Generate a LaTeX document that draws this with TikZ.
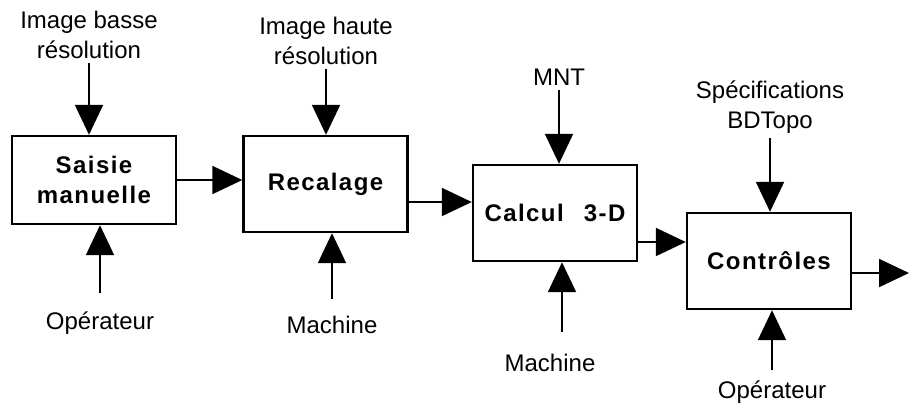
\documentclass[tikz,border=0pt]{standalone}
\usepackage{fontspec}
\setmainfont{Liberation Sans}
\newfontfamily\boxfont{Liberation Sans}[LetterSpace=6]
\usepackage{tikz}
\usetikzlibrary{arrows.meta, calc}
\tikzset{
  box/.style={draw, line width=1.2pt, align=center, minimum width=82pt, minimum height=48pt,
    font=\boxfont\bfseries\fontsize{12}{15}\selectfont},
  lab/.style={align=center, inner sep=2pt, font=\fontsize{12}{15}\selectfont},
  arr/.style={-{Triangle[length=15pt, width=14pt]}, line width=1pt},
}

\begin{document}
\begin{tikzpicture}[x=0.5pt, y=-0.5pt]
    \useasboundingbox (0,0) rectangle (909,403);
    \node[box, minimum height=44pt] (s1) at (94,180) {Saisie\\manuelle};
    \node[box] (s2) at (325.5,184) {Recalage};
    \node[box] (s3) at (555,213) {Calcul \enspace3-D};
    \node[box] (s4) at (769,261) {Contrôles};
    \node[lab] (i1) at (89,35) {Image basse\\résolution};
    \node[lab] (i2) at (326,41) {Image haute\\résolution};
    \node[lab] (i3) at (559,77) {MNT};
    \node[lab] (i4) at (770,107) {Spécifications\\BDTopo};
    \node[lab] (o1) at (100,323) {Opérateur};
    \node[lab] (o2) at (332,325) {Machine};
    \node[lab] (o3) at (550,363) {Machine};
    \node[lab] (o4) at (772,392) {Opérateur};
    \coordinate (fin) at (909,273);
    \draw[arr] (i1) -- (i1 |- s1.north);
    \draw[arr] (i2) -- (i2 |- s2.north);
    \draw[arr] (i3) -- (i3 |- s3.north);
    \draw[arr] (i4) -- (i4 |- s4.north);
    \draw[arr, shorten <=7pt] (o1) -- (o1 |- s1.south);
    \draw[arr, shorten <=6.5pt] (o2) -- (o2 |- s2.south);
    \draw[arr, shorten <=9pt] ([xshift=6pt]o3.north) -- ([xshift=6pt]o3.north |- s3.south);
    \draw[arr, shorten <=3pt] (o4) -- (o4 |- s4.south);
    \draw[arr] (s1) -- (s1 -| s2.west);
    \draw[arr] ([yshift=-9pt]s2.east) -- ([yshift=-9pt]s2.east -| s3.west);
    \draw[arr] ([yshift=-14.5pt]s3.east) -- ([yshift=-14.5pt]s3.east -| s4.west);
    \draw[arr] (s4.east |- fin) -- (fin);
  \end{tikzpicture}
\end{document}
